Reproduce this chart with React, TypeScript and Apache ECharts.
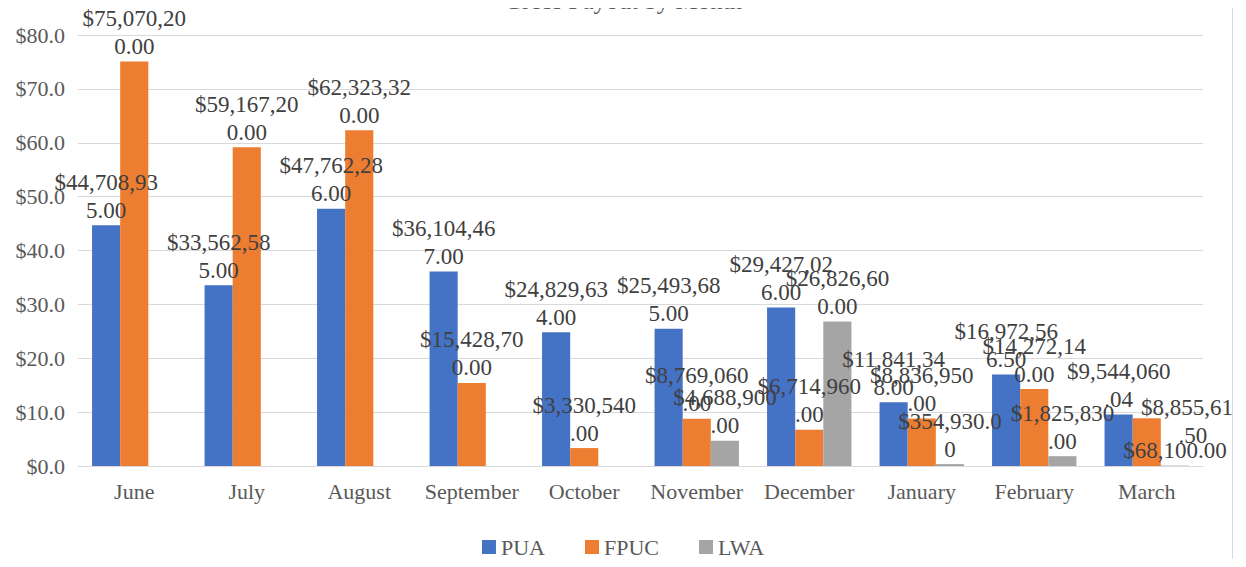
import React, { useEffect, useRef } from "react";
import * as echarts from "echarts";

const months = ["June", "July", "August", "September", "October", "November", "December", "January", "February", "March"];
const pua = [44708935, 33562585, 47762286, 36104467, 24829634, 25493685, 29427026, 11841348, 16972566.5, 9544060.04];
const fpuc = [75070200, 59167200, 62323320, 15428700, 3330540, 8769060, 6714960, 8836950, 14272140, 8855612.5];
const lwa = [null, null, null, null, null, 4688900, 26826600, 354930, 1825830, 68100];

const FONT = "Times New Roman, Liberation Serif, DejaVu Serif, serif";

function fmtLabel(v: number): string {
  const s = "$" + v.toLocaleString("en-US", { minimumFractionDigits: 2, maximumFractionDigits: 2 });
  const out: string[] = [];
  for (let i = 0; i < s.length; i += 10) out.push(s.slice(i, i + 10));
  return out.join("\n");
}

export default function App() {
  const ref = useRef<HTMLDivElement>(null);
  useEffect(() => {
    if (!ref.current) return;
    const chart = echarts.init(ref.current, undefined, { renderer: "svg" });
    const label = {
      show: true,
      position: "top" as const,
      distance: 1,
      color: "#404040",
      fontFamily: FONT,
      fontSize: 23,
      lineHeight: 28,
      formatter: (p: any) => (p.value == null ? "" : fmtLabel(p.value)),
    };
    const mk = (name: string, data: any[], color: string) => ({
      name,
      type: "bar" as const,
      data,
      itemStyle: { color },
      barGap: "0%",
      barCategoryGap: "25%",
      label,
    });
    // the last FPUC label is pushed inward/down, as in the reference
    const fpucData = fpuc.map((v, i) => (i === fpuc.length - 1 ? { value: v, label: { offset: [46, 32] } } : v));
    chart.setOption({
      animation: false,
      textStyle: { fontFamily: FONT },
      title: {
        text: "Gross Payout by Month",
        left: "center",
        top: -17,
        textStyle: { fontFamily: FONT, fontSize: 25, fontWeight: "normal", color: "#595959" },
      },
      grid: { left: 78, right: 43, top: 35, bottom: 101 },
      xAxis: {
        type: "category",
        data: months,
        axisLine: { lineStyle: { color: "#d9d9d9" } },
        axisTick: { show: false },
        axisLabel: { interval: 0, fontFamily: FONT, fontSize: 22, color: "#595959", margin: 14 },
      },
      yAxis: {
        type: "value",
        min: 0,
        max: 80000000,
        interval: 10000000,
        axisLabel: {
          fontFamily: FONT,
          fontSize: 22,
          color: "#595959",
          margin: 13,
          formatter: (v: number) => "$" + (v / 1e6).toFixed(1),
        },
        splitLine: { lineStyle: { color: "#d9d9d9" } },
      },
      legend: {
        bottom: 4,
        left: "center",
        icon: "rect",
        itemWidth: 14,
        itemHeight: 14,
        itemGap: 40,
        textStyle: { fontFamily: FONT, fontSize: 22, color: "#595959" },
      },
      series: [mk("PUA", pua, "#4472C4"), mk("FPUC", fpucData, "#ED7D31"), mk("LWA", lwa, "#A5A5A5")],
      graphic: [
        { type: "rect", z: 100, shape: { x: 1233, y: 0, width: 13, height: 567 }, style: { fill: "#ffffff" } },
        { type: "line", z: 101, shape: { x1: 1232.5, y1: 0, x2: 1232.5, y2: 567 }, style: { stroke: "#d9d9d9", lineWidth: 1 } },
      ],
    });
    return () => chart.dispose();
  }, []);
  return <div ref={ref} style={{ width: 1246, height: 567, margin: -8 }} />;
}
